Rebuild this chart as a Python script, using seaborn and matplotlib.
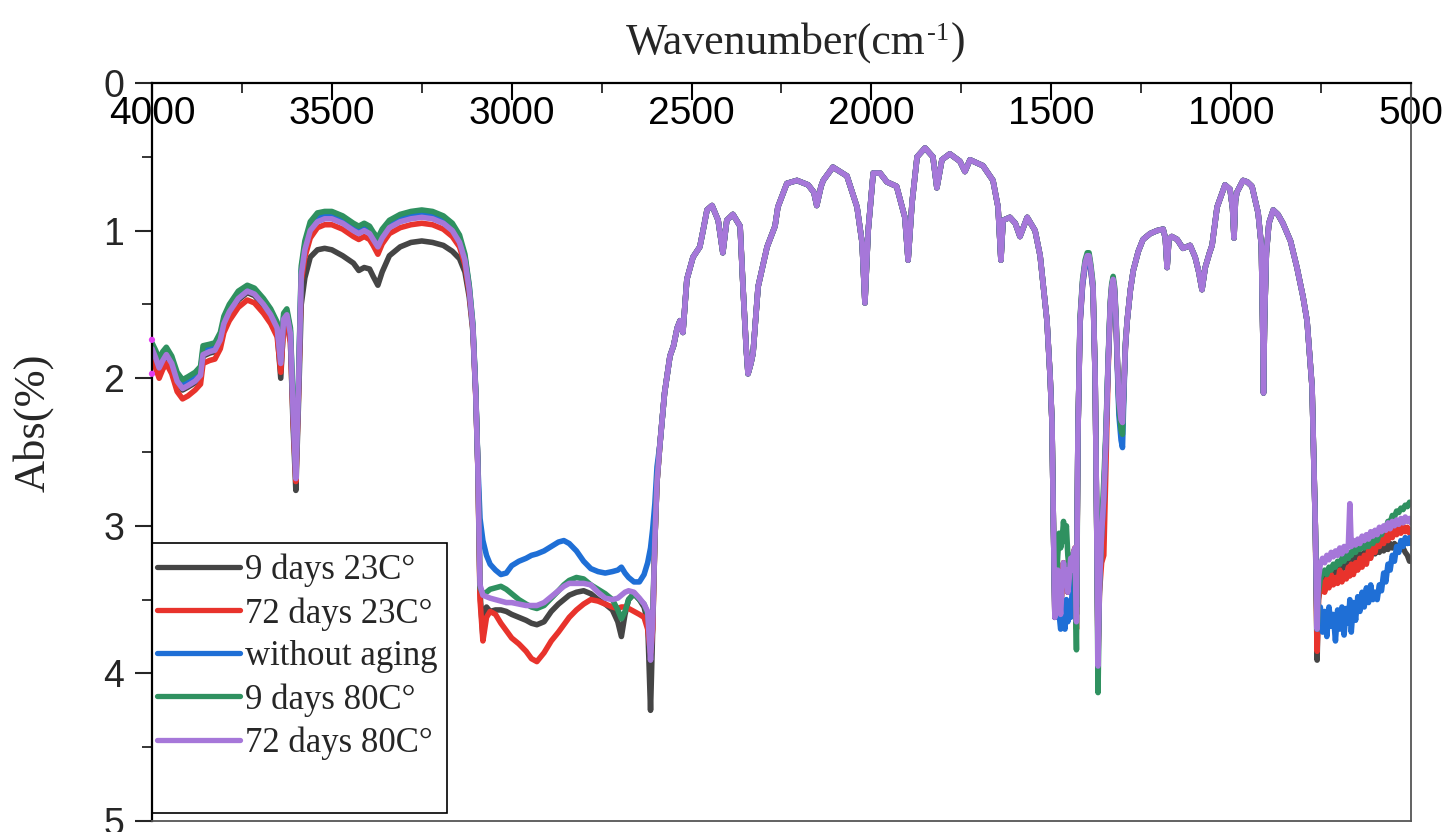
import pandas as pd
import matplotlib
matplotlib.use("Agg")
import matplotlib.pyplot as plt
from matplotlib.ticker import MultipleLocator
from matplotlib.patches import Rectangle
import seaborn as sns

# =====================================================
# DATA  wavenumber in cm-1, Abs
# =====================================================
LABELS = ["9 days 23C°", "72 days 23C°", "without aging", "9 days 80C°", "72 days 80C°"]
COLORS = ["#454545", "#e8332c", "#1f6fd6", "#2f9160", "#a677d9"]

# --- 4000-3094: O-H region, curves separated ---
wn_a = [4000, 3990, 3980, 3970, 3960, 3945, 3930, 3915, 3900, 3880, 3865, 3858, 3840, 3825, 3810,
        3800, 3785, 3760, 3735, 3715, 3690, 3670, 3652, 3642, 3634, 3625, 3615, 3608, 3600, 3593,
        3585, 3575, 3560, 3540, 3520, 3500, 3470, 3440, 3425, 3410, 3395, 3385, 3372, 3360, 3340,
        3310, 3280, 3250, 3220, 3190, 3165, 3145, 3130, 3118, 3108, 3100, 3094]
black_a = [1.81, 1.87, 1.94, 1.89, 1.85, 1.91, 2.03, 2.08, 2.06, 2.03, 1.99, 1.85, 1.83, 1.82, 1.75,
           1.64, 1.56, 1.47, 1.42, 1.44, 1.51, 1.58, 1.68, 2.00, 1.62, 1.59, 1.75, 2.30, 2.76, 2.20,
           1.50, 1.32, 1.18, 1.13, 1.12, 1.13, 1.17, 1.22, 1.27, 1.25, 1.26, 1.31, 1.37, 1.28, 1.17,
           1.11, 1.08, 1.07, 1.08, 1.10, 1.14, 1.19, 1.28, 1.45, 1.68, 2.10, 2.60]
red_a = [1.86, 1.93, 2.00, 1.94, 1.90, 1.97, 2.09, 2.14, 2.12, 2.08, 2.04, 1.90, 1.88, 1.87, 1.80,
         1.69, 1.61, 1.52, 1.47, 1.49, 1.56, 1.63, 1.72, 1.96, 1.66, 1.63, 1.76, 2.25, 2.70, 2.14,
         1.34, 1.18, 1.05, 0.98, 0.96, 0.96, 0.99, 1.04, 1.06, 1.04, 1.06, 1.10, 1.16, 1.09, 1.02,
         0.98, 0.96, 0.95, 0.96, 0.99, 1.04, 1.11, 1.23, 1.42, 1.66, 2.11, 2.61]
blue_a = [1.78, 1.84, 1.90, 1.86, 1.82, 1.88, 1.99, 2.04, 2.02, 1.99, 1.95, 1.81, 1.80, 1.79, 1.72,
          1.61, 1.53, 1.44, 1.39, 1.41, 1.48, 1.55, 1.64, 1.88, 1.58, 1.55, 1.68, 2.18, 2.65, 2.08,
          1.27, 1.10, 0.97, 0.91, 0.89, 0.89, 0.92, 0.97, 0.99, 0.97, 0.99, 1.03, 1.08, 1.02, 0.95,
          0.91, 0.89, 0.88, 0.89, 0.92, 0.97, 1.05, 1.18, 1.38, 1.64, 2.09, 2.59]
green_a = [1.76, 1.81, 1.87, 1.82, 1.79, 1.85, 1.96, 2.01, 1.99, 1.96, 1.92, 1.78, 1.77, 1.76, 1.69,
           1.58, 1.50, 1.41, 1.37, 1.39, 1.46, 1.53, 1.62, 1.86, 1.56, 1.53, 1.66, 2.15, 2.62, 2.05,
           1.24, 1.07, 0.94, 0.88, 0.87, 0.87, 0.90, 0.95, 0.97, 0.95, 0.97, 1.01, 1.05, 0.99, 0.93,
           0.89, 0.87, 0.86, 0.87, 0.90, 0.95, 1.03, 1.16, 1.37, 1.63, 2.08, 2.58]
purple_a = [1.80, 1.86, 1.93, 1.88, 1.84, 1.90, 2.02, 2.07, 2.05, 2.02, 1.98, 1.84, 1.82, 1.81, 1.74,
            1.63, 1.55, 1.46, 1.41, 1.43, 1.50, 1.57, 1.66, 1.90, 1.60, 1.57, 1.70, 2.20, 2.68, 2.10,
            1.30, 1.13, 1.00, 0.94, 0.92, 0.92, 0.95, 1.00, 1.02, 1.00, 1.02, 1.06, 1.11, 1.05, 0.98,
            0.94, 0.92, 0.91, 0.92, 0.95, 1.00, 1.08, 1.20, 1.40, 1.65, 2.10, 2.60]

# --- 3088-2596: C-H region ---
wn_b = [3088, 3080, 3070, 3060, 3045, 3030, 3015, 3000, 2980, 2960, 2945, 2930, 2910, 2890, 2870,
        2855, 2840, 2820, 2800, 2780, 2760, 2740, 2720, 2705, 2695, 2685, 2675, 2660, 2645, 2632,
        2622, 2614, 2608, 2602, 2596]
black_b = [3.45, 3.75, 3.55, 3.58, 3.57, 3.57, 3.58, 3.60, 3.62, 3.64, 3.66, 3.67, 3.65, 3.58, 3.53,
           3.50, 3.47, 3.45, 3.44, 3.46, 3.50, 3.53, 3.57, 3.65, 3.75, 3.60, 3.50, 3.46, 3.50, 3.55,
           3.65, 4.25, 3.70, 3.10, 2.70]
red_b = [3.50, 3.78, 3.62, 3.58, 3.60, 3.66, 3.71, 3.76, 3.80, 3.85, 3.90, 3.92, 3.86, 3.78, 3.72,
         3.67, 3.62, 3.57, 3.53, 3.50, 3.51, 3.53, 3.55, 3.56, 3.55, 3.55, 3.56, 3.58, 3.60, 3.62,
         3.70, 3.86, 3.70, 3.10, 2.70]
blue_b = [2.95, 3.10, 3.20, 3.26, 3.30, 3.33, 3.32, 3.27, 3.24, 3.22, 3.20, 3.19, 3.17, 3.14, 3.11,
          3.10, 3.12, 3.17, 3.24, 3.29, 3.31, 3.32, 3.31, 3.30, 3.28, 3.32, 3.35, 3.38, 3.38, 3.33,
          3.25, 3.15, 3.02, 2.85, 2.60]
green_b = [3.42, 3.46, 3.45, 3.43, 3.42, 3.41, 3.43, 3.46, 3.50, 3.53, 3.55, 3.56, 3.54, 3.49, 3.44,
           3.40, 3.37, 3.35, 3.36, 3.40, 3.43, 3.46, 3.50, 3.57, 3.63, 3.58, 3.50, 3.46, 3.50, 3.53,
           3.60, 3.75, 3.60, 3.10, 2.70]
purple_b = [3.40, 3.47, 3.48, 3.49, 3.50, 3.51, 3.52, 3.52, 3.53, 3.54, 3.54, 3.54, 3.52, 3.48, 3.44,
            3.41, 3.39, 3.39, 3.39, 3.40, 3.45, 3.49, 3.50, 3.49, 3.47, 3.45, 3.44, 3.45, 3.49, 3.53,
            3.58, 3.91, 3.65, 3.10, 2.70]

# --- 2588-1503: all samples overlap ---
wn_c = [2588, 2575, 2560, 2550, 2540, 2532, 2524, 2513, 2496, 2477, 2468, 2457, 2443, 2426, 2413,
        2402, 2385, 2365, 2357, 2348, 2343, 2335, 2329, 2315, 2290, 2268, 2260, 2235, 2207, 2176,
        2160, 2152, 2140, 2134, 2107, 2068, 2040, 2026, 2018, 2009, 1995, 1976, 1957, 1930, 1907,
        1898, 1887, 1873, 1851, 1829, 1818, 1804, 1782, 1754, 1740, 1726, 1690, 1662, 1648, 1640,
        1634, 1615, 1600, 1587, 1567, 1545, 1531, 1512, 1503]
abs_c = [2.45, 2.10, 1.85, 1.78, 1.66, 1.61, 1.69, 1.33, 1.18, 1.11, 1.00, 0.86, 0.83, 0.93, 1.15,
         0.93, 0.89, 0.97, 1.38, 1.80, 1.97, 1.90, 1.83, 1.38, 1.11, 0.97, 0.84, 0.68, 0.66, 0.69,
         0.74, 0.83, 0.70, 0.66, 0.57, 0.63, 0.84, 1.08, 1.49, 1.00, 0.61, 0.61, 0.67, 0.70, 0.91,
         1.20, 0.81, 0.50, 0.44, 0.50, 0.71, 0.52, 0.48, 0.53, 0.60, 0.52, 0.56, 0.66, 0.84, 1.20,
         0.93, 0.91, 0.95, 1.04, 0.91, 1.00, 1.17, 1.61, 2.00]

# --- 1498-1294: CH2/CH3 bending, curves separated ---
wn_d = [1498, 1494, 1490, 1486, 1482, 1478, 1474, 1470, 1466, 1462, 1458, 1454, 1450, 1446, 1442,
        1438, 1434, 1430, 1426, 1420, 1413, 1406, 1400, 1395, 1390, 1384, 1378, 1374, 1370, 1366,
        1360, 1354, 1348, 1342, 1336, 1332, 1328, 1324, 1320, 1316, 1312, 1306, 1302, 1298, 1294]
black_d = [2.30, 3.00, 3.62, 3.50, 3.30, 3.48, 3.60, 3.40, 3.25, 3.35, 3.30, 3.45, 3.35, 3.22, 3.30,
           3.18, 3.15, 3.60, 2.40, 1.61, 1.35, 1.22, 1.17, 1.17, 1.25, 1.38, 2.00, 2.90, 3.85, 3.40,
           3.05, 2.80, 2.40, 1.90, 1.50, 1.38, 1.33, 1.40, 1.60, 1.90, 2.15, 2.28, 2.30, 2.05, 1.78]
red_d = [2.30, 3.00, 3.62, 3.50, 3.30, 3.48, 3.60, 3.40, 3.25, 3.35, 3.30, 3.45, 3.35, 3.22, 3.30,
         3.18, 3.15, 3.70, 2.40, 1.63, 1.37, 1.24, 1.19, 1.19, 1.27, 1.40, 2.00, 2.90, 3.90, 3.45,
         3.25, 3.20, 2.60, 1.95, 1.52, 1.40, 1.35, 1.42, 1.62, 1.92, 2.17, 2.30, 2.32, 2.07, 1.80]
blue_d = [2.30, 3.00, 3.62, 3.55, 3.50, 3.60, 3.70, 3.65, 3.55, 3.70, 3.50, 3.65, 3.55, 3.62, 3.45,
          3.40, 3.30, 3.55, 2.40, 1.63, 1.37, 1.24, 1.19, 1.19, 1.27, 1.40, 2.00, 2.90, 3.80, 3.40,
          3.05, 2.80, 2.40, 1.90, 1.52, 1.40, 1.35, 1.42, 1.62, 1.95, 2.25, 2.42, 2.47, 2.10, 1.80]
green_d = [2.30, 3.00, 3.55, 3.40, 3.20, 3.05, 3.15, 3.10, 2.97, 3.10, 3.00, 3.20, 3.30, 3.22, 3.30,
           3.18, 3.30, 3.84, 2.40, 1.59, 1.33, 1.20, 1.15, 1.15, 1.23, 1.36, 2.00, 2.90, 4.13, 3.40,
           3.00, 2.70, 2.35, 1.88, 1.48, 1.36, 1.31, 1.38, 1.58, 1.90, 2.20, 2.35, 2.38, 2.05, 1.76]
purple_d = [2.30, 3.00, 3.62, 3.50, 3.30, 3.48, 3.60, 3.40, 3.25, 3.35, 3.30, 3.45, 3.35, 3.22, 3.30,
            3.18, 3.15, 3.65, 2.40, 1.61, 1.35, 1.22, 1.17, 1.17, 1.25, 1.38, 2.00, 2.90, 3.95, 3.40,
            3.05, 2.80, 2.40, 1.90, 1.50, 1.38, 1.33, 1.40, 1.60, 1.90, 2.15, 2.28, 2.30, 2.05, 1.78]

# --- 1289-775: all samples overlap ---
wn_e = [1289, 1280, 1272, 1258, 1245, 1225, 1206, 1189, 1183, 1178, 1173, 1165, 1150, 1134, 1114,
        1100, 1090, 1081, 1072, 1060, 1053, 1039, 1017, 1003, 996, 992, 988, 984, 967, 955,
        942, 925, 916, 912, 910, 907, 902, 895, 883, 870, 856, 835, 817, 800, 789,
        780, 775]
abs_e = [1.61, 1.40, 1.27, 1.14, 1.06, 1.02, 1.00, 0.99, 1.05, 1.25, 1.06, 1.04, 1.06, 1.12, 1.10,
         1.18, 1.28, 1.40, 1.25, 1.15, 1.10, 0.84, 0.69, 0.72, 0.85, 1.05, 0.80, 0.74, 0.66, 0.67,
         0.70, 0.88, 1.10, 1.70, 2.10, 1.60, 1.15, 0.95, 0.86, 0.89, 0.95, 1.07, 1.25, 1.45, 1.61,
         1.90, 2.06]

# --- 772-500: noisy low-wavenumber end ---
wn_f = [772, 766, 761, 757, 752, 746, 740, 734, 728, 722, 716, 710, 704, 698, 692, 686, 680, 674,
        670, 666, 660, 654, 648, 642, 636, 630, 624, 618, 612, 606, 600, 594, 588, 582, 576, 570,
        564, 558, 552, 546, 540, 534, 528, 522, 516, 510, 504, 500]
black_f = [2.37, 3.00, 3.91, 3.45, 3.36, 3.35, 3.38, 3.33, 3.36, 3.30, 3.34, 3.29, 3.32, 3.27, 3.30,
           3.25, 3.28, 3.23, 3.26, 3.22, 3.25, 3.20, 3.23, 3.19, 3.22, 3.18, 3.21, 3.17, 3.20, 3.16,
           3.19, 3.15, 3.18, 3.14, 3.17, 3.13, 3.16, 3.12, 3.15, 3.12, 3.15, 3.13, 3.16, 3.15, 3.18,
           3.20, 3.24, 3.22]
red_f = [2.37, 3.00, 3.85, 3.50, 3.42, 3.38, 3.45, 3.36, 3.42, 3.33, 3.40, 3.35, 3.39, 3.30, 3.38,
         3.32, 3.36, 3.28, 3.34, 3.26, 3.33, 3.25, 3.30, 3.22, 3.28, 3.20, 3.26, 3.17, 3.22, 3.13,
         3.18, 3.10, 3.14, 3.08, 3.12, 3.06, 3.10, 3.04, 3.08, 3.02, 3.06, 3.01, 3.05, 3.00, 3.04,
         3.01, 3.05, 3.03]
blue_f = [2.37, 3.00, 3.70, 3.62, 3.55, 3.72, 3.58, 3.75, 3.55, 3.68, 3.60, 3.78, 3.57, 3.70, 3.55,
          3.74, 3.56, 3.66, 3.50, 3.72, 3.52, 3.64, 3.48, 3.58, 3.45, 3.55, 3.42, 3.52, 3.40, 3.50,
          3.45, 3.50, 3.40, 3.44, 3.32, 3.38, 3.26, 3.30, 3.20, 3.24, 3.14, 3.18, 3.10, 3.14, 3.08,
          3.12, 3.08, 3.12]
green_f = [2.37, 3.00, 3.70, 3.45, 3.36, 3.32, 3.30, 3.33, 3.28, 3.30, 3.26, 3.28, 3.24, 3.26, 3.22,
           3.24, 3.20, 3.22, 3.18, 3.20, 3.16, 3.18, 3.14, 3.16, 3.12, 3.15, 3.12, 3.14, 3.10, 3.12,
           3.08, 3.10, 3.05, 3.06, 3.01, 3.02, 2.97, 2.98, 2.93, 2.94, 2.90, 2.91, 2.88, 2.89, 2.86,
           2.87, 2.84, 2.85]
purple_f = [2.37, 3.00, 3.70, 3.35, 3.26, 3.22, 3.25, 3.20, 3.23, 3.18, 3.21, 3.17, 3.20, 3.15, 3.19,
            3.14, 3.17, 3.12, 2.85, 3.14, 3.10, 3.13, 3.09, 3.12, 3.07, 3.10, 3.06, 3.09, 3.04, 3.07,
            3.03, 3.06, 3.01, 3.04, 3.00, 3.03, 2.98, 3.02, 2.97, 3.00, 2.96, 2.99, 2.95, 2.98, 2.94,
            2.97, 2.95, 2.98]

# magenta specks on the left border of the original figure
speck_wn = [4000, 4000]
speck_abs = [1.74, 1.97]

# =====================================================
# LONG TABLE FOR SEABORN
# =====================================================
wn_all = wn_a + wn_b + wn_c + wn_d + wn_e + wn_f
parts = {
    LABELS[0]: black_a + black_b + abs_c + black_d + abs_e + black_f,
    LABELS[1]: red_a + red_b + abs_c + red_d + abs_e + red_f,
    LABELS[2]: blue_a + blue_b + abs_c + blue_d + abs_e + blue_f,
    LABELS[3]: green_a + green_b + abs_c + green_d + abs_e + green_f,
    LABELS[4]: purple_a + purple_b + abs_c + purple_d + abs_e + purple_f,
}
frames = [pd.DataFrame({"wn": wn_all, "abs": v, "sample": k}) for k, v in parts.items()]
df = pd.concat(frames, ignore_index=True)

# =====================================================
# FIGURE
# =====================================================
sns.set_style("ticks")
plt.rcParams["font.family"] = ["Liberation Sans", "DejaVu Sans"]
SERIF = ["Liberation Serif", "DejaVu Serif"]

fig = plt.figure(figsize=(14.5, 8.32), dpi=100)
ax = fig.add_axes([0.1048, 0.0132, 0.8683, 0.8870])

sns.lineplot(data=df, x="wn", y="abs", hue="sample", hue_order=LABELS,
             palette=COLORS, estimator=None, sort=True, lw=4.0, ax=ax)
sns.scatterplot(x=speck_wn, y=speck_abs, color="#e23cf0", s=20, edgecolor="none",
                ax=ax, legend=False, zorder=5, clip_on=False)

ax.set_xlim(4000, 500)
ax.set_ylim(5, 0)
ax.set_xlabel("")
ax.set_ylabel("")

# x axis on top, ticks pointing in, labels sitting under the spine
ax.xaxis.tick_top()
ax.xaxis.set_major_locator(MultipleLocator(500))
ax.xaxis.set_minor_locator(MultipleLocator(250))
ax.tick_params(axis="x", which="major", direction="in", length=12, width=1.5,
               labelsize=28, pad=-35, colors="black")
ax.tick_params(axis="x", which="minor", direction="in", length=7, width=1.3)

ax.yaxis.set_major_locator(MultipleLocator(1))
ax.yaxis.set_minor_locator(MultipleLocator(0.5))
ax.tick_params(axis="y", which="major", direction="out", length=12, width=1.5,
               labelsize=27, pad=8)
ax.tick_params(axis="y", which="minor", direction="out", length=7, width=1.3)

for s in ["top", "left"]:
    ax.spines[s].set_color("black")
    ax.spines[s].set_linewidth(1.6)
for s in ["right", "bottom"]:
    ax.spines[s].set_color("#555555")
    ax.spines[s].set_linewidth(1.3)

# axis titles (serif); superscript "-1" keeps a plain hyphen like the original
t_main = fig.text(926 / 1450, 1 - 54 / 832, "Wavenumber(cm", ha="right", va="baseline",
                  fontsize=31.5, family=SERIF)
t_sup = ax.annotate("-1", xy=(1.0, 0.98), xycoords=t_main, xytext=(1, 0),
                    textcoords="offset points", ha="left", va="top",
                    fontsize=19, family=SERIF, annotation_clip=False)
ax.annotate(")", xy=(1.0, 0.0), xycoords=(t_sup, t_main), xytext=(1, 0),
            textcoords="offset points", ha="left", va="bottom",
            fontsize=31.5, family=SERIF, annotation_clip=False)
fig.text(0.023, 0.4916, "Abs(%)", ha="center", va="center", rotation=90,
         fontsize=32, family=SERIF)

# legend: frameless entries plus a taller box drawn by hand
handles, labels = ax.get_legend_handles_labels()
leg = ax.legend(handles, labels, loc="upper left", bbox_to_anchor=(0.004, 0.362),
                frameon=False, borderpad=0, borderaxespad=0, handlelength=2.4,
                handletextpad=0.14, labelspacing=0.28, prop={"family": SERIF, "size": 25})
for h in leg.get_lines():
    h.set_linewidth(3.8)
ax.add_patch(Rectangle((0.0, 0.011), 0.234, 0.366, transform=ax.transAxes, fill=False,
                       edgecolor="black", lw=1.2, zorder=6))

fig.savefig("out.png", dpi=100)
plt.close(fig)
